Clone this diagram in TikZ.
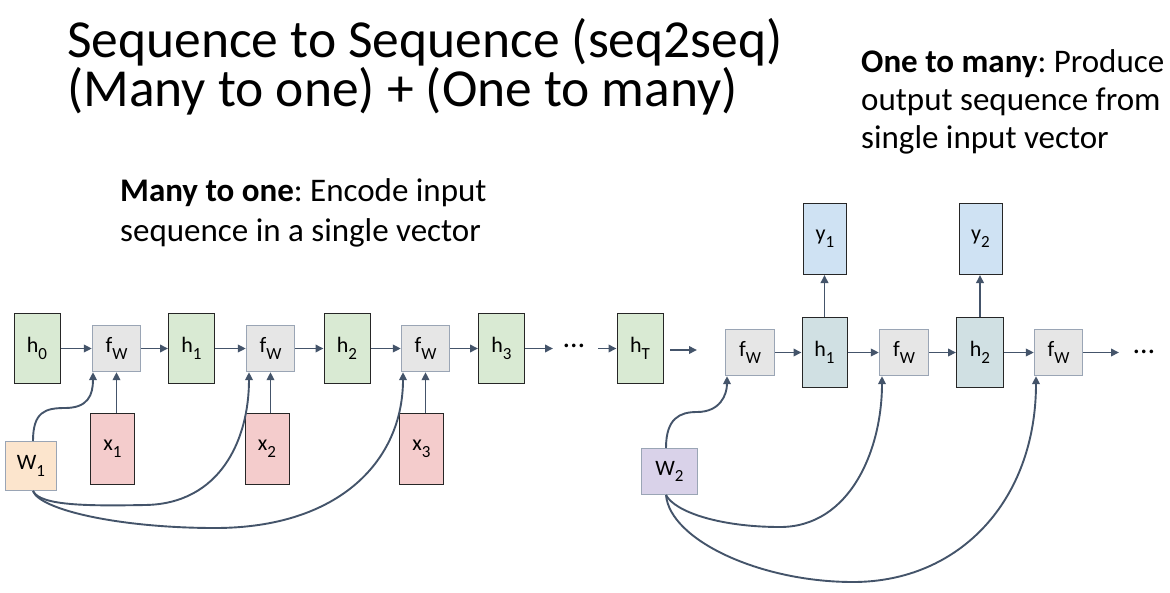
\documentclass[tikz,border=0pt]{standalone}
\usepackage{fontspec}
\setmainfont{Carlito}
\usetikzlibrary{arrows.meta}
\frenchspacing
\definecolor{arr}{HTML}{44546A}
\definecolor{hg}{HTML}{D9EAD3}
\definecolor{fg}{HTML}{E6E6E6}
\definecolor{fb}{HTML}{9AA5B5}
\definecolor{xp}{HTML}{F4CCCC}
\definecolor{wo}{HTML}{FCE5CD}
\definecolor{wp}{HTML}{D9D2E9}
\definecolor{yb}{HTML}{CFE2F3}
\definecolor{hd}{HTML}{D0E0E3}
\newcommand\lab[2]{#1\raisebox{-0.3em}{\fontsize{17}{17}\selectfont #2}}
\begin{document}
\begin{tikzpicture}[x=1pt,y=-1pt,
  box/.style={draw=black!85,line width=1pt,inner sep=0pt,font=\fontsize{22}{22}\selectfont},
  hbox/.style={box,fill=hg,minimum width=46pt,minimum height=70pt},
  hdbox/.style={box,fill=hd,minimum width=45pt,minimum height=70pt},
  ybox/.style={box,fill=yb,minimum width=43pt,minimum height=71pt},
  xbox/.style={box,fill=xp,minimum width=44pt,minimum height=71pt},
  fbox/.style={box,draw=fb,line width=1.3pt,fill=fg,minimum width=48pt,minimum height=46pt},
  wbox/.style={box,draw=fb,line width=1.3pt,minimum width=51pt,minimum height=49pt},
  con/.style={draw=arr,line width=1.9pt,-{Triangle[length=8pt,width=7.5pt]}},
  txt/.style={anchor=base west,inner sep=0pt,align=left,font=\fontsize{33}{38.5}\selectfont},
  dots/.style={inner sep=0pt,font=\fontsize{30}{30}\selectfont}]
\useasboundingbox (0,0) rectangle (1170,592);
% titles
\node[anchor=base west,inner sep=0pt,align=left,font=\fontsize{53.5}{48.5}\selectfont] (t1) at (67,106) {Sequence to Sequence (seq2seq)\\(Many to one) + (One to many)};
\node[txt,font=\fontsize{33}{40}\selectfont] (m1) at (120,241) {\textbf{Many to one}: Encode input\\sequence in a single vector};
\node[txt,font=\fontsize{33}{38}\selectfont] (o1) at (861,148) {\textbf{One to many}: Produce\\output sequence from\\single input vector};
% encoder
\node[hbox] (h0) at (37,348.5) {\lab{h}{0}};
\node[fbox] (f1) at (116.5,348.5) {\lab{f}{W}};
\node[hbox] (h1) at (191.5,348.5) {\lab{h}{1}};
\node[fbox] (f2) at (270.5,348.5) {\lab{f}{W}};
\node[hbox] (h2) at (347,348.5) {\lab{h}{2}};
\node[fbox] (f3) at (425.5,348.5) {\lab{f}{W}};
\node[hbox] (h3) at (501.5,348.5) {\lab{h}{3}};
\node[dots] (d1) at (574,346) {…};
\node[hbox] (hT) at (640,348.5) {\lab{h}{T}};
\node[xbox] (x1) at (112.5,449) {\lab{x}{1}};
\node[xbox] (x2) at (267,449) {\lab{x}{2}};
\node[xbox] (x3) at (421.5,449) {\lab{x}{3}};
\node[wbox,fill=wo] (W1) at (31,466) {\lab{W}{1}};
\coordinate (c1) at (553,348.5);
\coordinate (c2) at (598,348.5);
\coordinate (c3) at (670,350);
\coordinate (c4) at (697,350);
\path[con] (h0) -- (f1);
\path[con] (f1) -- (h1);
\path[con] (h1) -- (f2);
\path[con] (f2) -- (h2);
\path[con] (h2) -- (f3);
\path[con] (f3) -- (h3);
\path[con] (h3) -- (c1);
\path[con] (c2) -- (hT);
\path[con] (c3) -- (c4);
\path[con] (f1.south |- x1.north) -- (f1.south);
\path[con] (f2.south |- x2.north) -- (f2.south);
\path[con] (f3.south |- x3.north) -- (f3.south);
\coordinate (w1t) at (33,441);
\coordinate (w1b) at (33,491);
\path[con] (w1t) .. controls (33,412) and (45,408) .. (65,408) .. controls (88,408) and (93,395) .. (f1.south west -| 93,0);
\path[con] (w1b) .. controls (40,506) and (90,506) .. (145,505) .. controls (220,504) and (249,440) .. (f2.south west -| 249,0);
\path[con] (w1b) .. controls (40,510) and (120,528) .. (215,528) .. controls (340,528) and (403,460) .. (f3.south west -| 403,0);
% decoder
\node[fbox,minimum width=49pt] (g1) at (750,352.5) {\lab{f}{W}};
\node[hdbox] (k1) at (824.5,352.5) {\lab{h}{1}};
\node[ybox] (y1) at (825,239) {\lab{y}{1}};
\node[fbox,minimum width=49pt] (g2) at (904,352.5) {\lab{f}{W}};
\node[hdbox,minimum width=47pt] (k2) at (980,352.5) {\lab{h}{2}};
\node[ybox] (y2) at (980.5,239) {\lab{y}{2}};
\node[fbox] (g3) at (1058.5,352.5) {\lab{f}{W}};
\node[dots] (d2) at (1144,352) {…};
\node[wbox,fill=wp,minimum width=56pt,minimum height=46pt] (W2) at (669.5,471.5) {\lab{W}{2}};
\coordinate (c5) at (1119,352.5);
\path[con] (g1) -- (k1);
\path[con] (k1) -- (g2);
\path[con] (g2) -- (k2);
\path[con] (k2) -- (g3);
\path[con] (g3) -- (c5);
\path[con] (k1.north) -- (y1.south -| k1.north);
\path[con] (k2.north) -- (y2.south -| k2.north);
\coordinate (w2t) at (666,448);
\coordinate (w2b) at (666,495);
\path[con] (w2t) .. controls (666,418) and (680,412) .. (697,412) .. controls (720,412) and (727,395) .. (g1.south west -| 727,0);
\path[con] (w2b) .. controls (675,512) and (720,527) .. (780,527) .. controls (850,527) and (882,450) .. (g2.south west -| 882,0);
\path[con] (w2b) .. controls (670,540) and (760,582) .. (853,582) .. controls (960,582) and (1036,500) .. (g3.south west -| 1036,0);
\end{tikzpicture}
\end{document}
